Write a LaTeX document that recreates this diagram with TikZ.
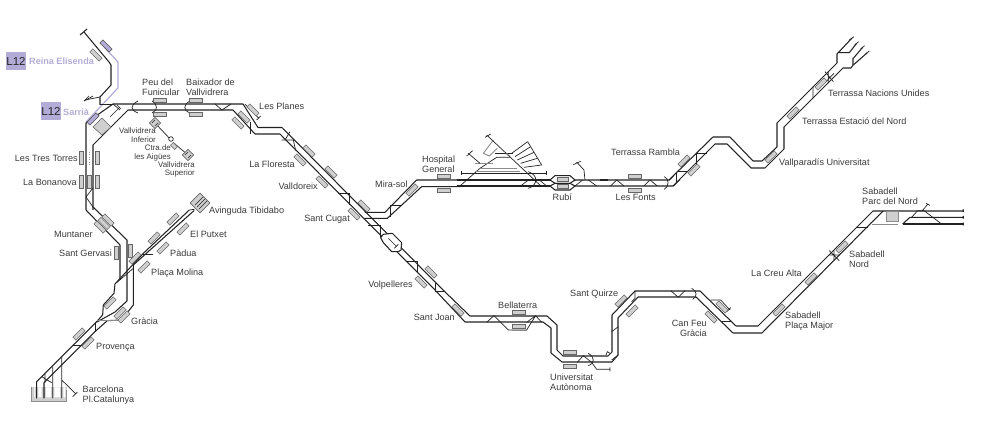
\documentclass[tikz,border=0pt]{standalone}
\usepackage{fontspec}
\setmainfont{Liberation Sans}
\definecolor{ink}{HTML}{222222}
\definecolor{txt}{HTML}{3A3A3A}
\definecolor{lil}{HTML}{B3ACD6}
\definecolor{stf}{HTML}{CFCFCF}
\definecolor{stl}{HTML}{666666}
\definecolor{grt}{HTML}{8C8C8C}
\tikzset{
 trk/.style={draw=ink,line width=1.05pt,line join=round},
 thin trk/.style={draw=ink,line width=0.7pt},
 grey trk/.style={draw=grt,line width=0.9pt},
 lil trk/.style={draw=lil,line width=1.2pt},
 sta/.style={draw=stl,fill=stf,line width=0.6pt,minimum width=13pt,minimum height=4.2pt,inner sep=0pt,outer sep=0pt},
 stap/.style={sta,fill=lil,draw=black!70},
 lab/.style={text=txt,font=\fontsize{9.1}{9.8}\selectfont,inner sep=0pt,align=left,anchor=west},
 labr/.style={text=txt,font=\fontsize{9.1}{9.8}\selectfont,inner sep=0pt,align=right,anchor=east},
 smallr/.style={text=txt,font=\fontsize{7.9}{8.7}\selectfont,inner sep=0pt,align=right,anchor=east},
 lilab/.style={text=lil,font=\fontsize{9.1}{10}\selectfont\bfseries,inner sep=0pt,anchor=west},
 l12/.style={fill=lil,text=black!85,font=\fontsize{11.5}{11.5}\selectfont,minimum width=18pt,minimum height=18pt,inner sep=0pt},
}
\newcommand{\stn}[4]{\node[sta,rotate=#3] (#4) at (#1,#2) {};}
\begin{document}
\begin{tikzpicture}[x=1pt,y=-1pt]
\useasboundingbox (0,0) rectangle (999,430);
% --- L12 branch
\draw[lil trk] (86,122) -- (118,88) -- (118,62) -- (104,47);
% --- top left terminus
\draw[trk] (84,32) -- (109,62) -- (111,65) -- (111,85) -- (100,97) -- (100,105);
\draw[trk] (80,35) -- (87,29);
\draw[thin trk] (100,97) -- (85,100) (84,101) -- (89,96);
\draw[thin trk] (93,96) -- (84,101);
\draw[thin trk] (100,104) -- (113,104);
% --- main line from Sarrià to Sabadell
\draw[trk] (86,210) -- (86,123) -- (113,104) -- (243,104) -- (258,127.5) -- (282,127.5) -- (443,290) -- (470,316) -- (547,316) -- (557,325) -- (557,350) -- (563,356) -- (608,356) -- (612,352) -- (612,315) -- (635,291) -- (700,291) -- (736,326) -- (758,326) -- (873,211) -- (963,211);
\draw[trk] (93,210) -- (93,145) -- (128,110) -- (233,110) -- (255,134) -- (280,134) -- (435,290) -- (465,322) -- (543,322) -- (551,328) -- (551,353) -- (562,362) -- (612,362) -- (618,355) -- (618,318) -- (638,297) -- (696,297) -- (733,333) -- (762,333) -- (883,211);
\draw[thin trk] (110,117) -- (120,107);
\draw[thin trk] (113,104) -- (120,110);
\draw[thin trk] (117,105) -- (121,109);
% arcs at Peu/Baixador
\draw[thin trk] (138,101) .. controls (130,105) and (130,110) .. (138,113);
\draw[thin trk] (152,101) .. controls (158,105) and (158,110) .. (152,113);
\draw[thin trk] (190,101) .. controls (183,105) and (183,110) .. (190,113);
\draw[thin trk] (215,104) -- (222,110) -- (231,104);
% diamond and grey at Sarrià
\draw[draw=stl,fill=stf,line width=.6pt] (102,118) -- (111,127) -- (102,135) -- (93,127) -- cycle;
% --- Funicular
\draw[thin trk] (155,123) -- (172,141) (175,144) -- (188,155);
\draw[thin trk,fill=white] (171,139) circle (2.3pt);
\node[sta,rotate=-45,minimum width=8pt,minimum height=8pt] (fa) at (155,123) {};
\node[sta,rotate=-45,minimum width=6pt,minimum height=4pt] (fb) at (174,146) {};
\node[sta,rotate=-45,minimum width=8pt,minimum height=8pt] (fc) at (188,155) {};
\draw[thin trk] (152,123) -- (155,120) (155,126) -- (158,123) (185,155) -- (188,152) (188,158) -- (191,155);
% crossing Bonanova
\draw[thin trk] (86,197) -- (93,188) (86,197) -- (93,207);
\draw[draw=grt,dotted,line width=.5pt] (89,152) -- (89,165);
% --- Muntaner to Gràcia to Catalunya
\draw[trk] (86,210) -- (120,245) -- (120,280);
\draw[trk] (93,207) -- (127,240) -- (127,301) -- (115,312) -- (97,322);
\begin{scope}[shift={(0,190)},x=0.3333pt,y=-0.3333pt]
\fill[stf] (93,590) rectangle (200,635);
\fill[white] (103,592) rectangle (105,622) (115,592) rectangle (125,622) (138,592) rectangle (153,622) (163,592) rectangle (180,622) (190,592) rectangle (196,622);
\draw[grey trk] (93,590) -- (93,635) -- (200,635) -- (200,600);
\draw[trk] (568,60) -- (430,190) -- (345,282) -- (342,310) -- (310,345) -- (308,375) -- (290,395) -- (125,560) -- (110,575) -- (110,625);
\draw[trk] (582,62) -- (400,225) -- (400,345) -- (365,390) -- (322,392) -- (285,425) -- (185,525) -- (132,578) -- (132,625);
\draw[thin trk] (568,60) -- (582,58) -- (582,62);
\draw[thin trk] (350,278) -- (400,235);
\draw[grey trk] (290,392) -- (365,392);
\draw[thin trk] (430,192) -- (460,192) (220,466) -- (245,466) (285,395) -- (285,425);
\draw[thin trk] (185,500) -- (185,625) (158,530) -- (158,625) (185,570) -- (228,612);
\draw[thin trk] (218,620) -- (232,606);
\draw[thin trk] (125,560) -- (155,578) (135,552) -- (135,578);
\end{scope}
% --- Les Planes side
\begin{scope}[shift={(230,90)},x=0.3333pt,y=-0.3333pt]
\draw[thin trk] (45,42) -- (87,85) (80,90) -- (92,78);
\draw[thin trk] (62,95) -- (62,132);
\draw[thin trk] (155,150) -- (190,150) -- (197,182) (165,150) -- (180,125);
\draw[thin trk] (325,310) -- (358,310) -- (358,345);
\draw[thin trk] (415,405) -- (450,405) -- (450,440);
\draw[thin trk] (530,515) -- (562,515) -- (562,550);
\draw[thin trk] (480,345) -- (515,345) (482,345) -- (482,380);
\draw[trk] (405,367) -- (465,367) -- (560,270) -- (690,270);
\draw[trk] (403,385) -- (472,385) -- (575,290) -- (690,290);
\draw[trk,fill=white] (452,443) -- (460,433) -- (487,430) -- (515,458) -- (513,480) -- (505,485) -- (485,485) -- (460,458) -- cycle;
\draw[thin trk] (475,445) -- (500,470) (493,475) -- (505,463);
\end{scope}
% --- Rubí
\begin{scope}[shift={(400,120)},x=0.3333pt,y=-0.3333pt]
\draw[trk] (170,180) -- (450,180);
\draw[trk] (170,198) -- (450,198);
\draw[thin trk] (180,198) -- (240,145) -- (290,112) -- (330,112);
\draw[thin trk] (183,160) -- (440,160) (183,154) -- (183,166) (440,154) -- (440,166);
\draw[grey trk] (225,155) -- (360,155) (240,145) -- (350,145) (225,130) -- (280,130);
\draw[thin trk] (205,100) -- (240,130) (200,108) -- (218,92);
\draw[grey trk] (250,100) -- (280,60) (250,100) -- (268,108) -- (292,85);
\draw[thin trk] (260,45) -- (425,200) (255,52) -- (272,42);
\draw[thin trk] (285,100) -- (340,100);
\draw[grey trk] (320,100) -- (330,108);
\draw[thin trk] (335,100) -- (383,65) (345,110) -- (392,80) (352,120) -- (402,97) (362,130) -- (412,115) (372,142) -- (425,135);
\draw[thin trk] (383,65) -- (425,135);
\draw[thin trk] (362,198) -- (385,180) (418,180) -- (440,198);
\draw[thin trk] (385,155) .. controls (415,165) and (415,195) .. (385,205);
\draw[trk] (450,180) -- (465,167) -- (510,167) -- (525,180) -- (510,190) -- (465,190) -- cycle;
\draw[trk] (450,198) -- (465,190) -- (510,190) -- (525,198) -- (510,210) -- (465,210) -- cycle;
\draw[trk] (525,180) -- (808,180) -- (820,168);
\draw[trk] (525,198) -- (820,198) -- (840,178);
\draw[thin trk] (525,198) -- (548,180) (565,180) -- (590,198) (555,180) -- (552,150) -- (530,126) (520,134) -- (542,124);
\draw[ink,line width=1.4pt] (600,180) -- (625,180);
\draw[thin trk] (632,198) -- (650,180) -- (672,198) (732,198) -- (750,180) -- (772,198);
\draw[thin trk] (793,170) .. controls (808,175) and (808,200) .. (793,208);
\end{scope}
% --- Terrassa
\draw[trk] (669,180) -- (713,137) -- (730,137) -- (753,161) -- (762,161) -- (777,147) -- (777,123) -- (837,63) -- (837,54) -- (852,38);
\draw[trk] (673,186) -- (715,144) -- (727,144) -- (751,168) -- (765,168) -- (784,149) -- (784,127) -- (843,68) -- (851,68) -- (853,65) -- (853,58);
\begin{scope}[shift={(660,30)},x=0.3333pt,y=-0.3333pt]
\draw[thin trk] (50,425) -- (85,425) (50,425) -- (50,460) (108,370) -- (140,370) (108,370) -- (108,405);
\draw[thin trk] (459,170) -- (459,205) (505,125) -- (505,160) (495,125) -- (520,155) (495,158) -- (522,130);
\draw[trk] (537,68) -- (568,68) -- (590,40);
\draw[trk] (580,85) -- (608,52) (580,105) -- (622,68);
\draw[thin trk] (568,30) -- (582,20) (584,45) -- (596,35) (602,57) -- (614,47) (616,73) -- (628,63);
\end{scope}
% --- Volpelleres to UAB detail
\begin{scope}[shift={(370,270)},x=0.3333pt,y=-0.3333pt]
\draw[thin trk] (195,35) -- (195,65) -- (225,65);
\draw[thin trk] (350,157) -- (372,137) -- (392,157) -- (415,180) -- (470,180) -- (497,137) (470,157) -- (497,137) -- (515,157);
\draw[grey trk] (425,180) -- (470,180);
\draw[thin trk] (622,277) -- (640,257) -- (665,277) -- (680,298) -- (720,298) (720,292) -- (720,304);
\draw[thin trk] (655,250) .. controls (675,262) and (675,280) .. (655,287);
\draw[thin trk] (708,255) -- (712,245) -- (720,250);
\draw[thin trk] (725,185) -- (745,170);
\draw[thin trk] (725,270) -- (745,255);
\draw[thin trk] (785,95) -- (795,85) -- (795,62);
\end{scope}
% --- Can Feu to Sabadell detail
\begin{scope}[shift={(650,180)},x=0.3333pt,y=-0.3333pt]
\draw[thin trk] (62,332) -- (85,352) -- (105,332);
\draw[thin trk] (125,325) .. controls (142,332) and (142,352) .. (128,358);
\draw[thin trk] (182,360) -- (212,360) -- (240,390) (230,395) -- (242,383);
\draw[thin trk] (215,425) -- (245,425);
\draw[thin trk] (538,212) -- (568,242) (552,212) -- (552,242) (568,225) -- (538,225);
\draw[thin trk] (620,142) -- (655,142);
\draw[grey trk] (665,132) -- (745,132);
\draw[trk] (758,132) -- (780,112) -- (940,112);
\draw[trk] (758,132) -- (940,132);
\draw[thin trk] (785,112) -- (803,92) -- (822,92) -- (875,132) (817,92) -- (834,72) (828,70) -- (840,76);
\fill[ink] (938,88) rectangle (942,96) (938,108) rectangle (942,116) (938,128) rectangle (942,136);
\end{scope}
\node[draw=grt,fill=stf,line width=1pt,minimum width=12pt,minimum height=10pt,inner sep=0pt] (pn) at (892,217) {};
% --- stations
\node[stap,rotate=-45] (reinaA) at (106,46) {};
\stn{96}{55}{-45}{reinaB}
\node[stap,rotate=45] (sarria) at (93,119) {};
\stn{159.5}{100}{0}{peuA}\stn{159.5}{114}{0}{peuB}
\stn{195.5}{100}{0}{baiA}\stn{195.5}{114}{0}{baiB}
\stn{253}{110}{-45}{plA}\stn{244}{117}{-45}{plB}\stn{238}{123}{-45}{plC}
\stn{81}{158}{90}{ttA}\stn{97}{158}{90}{ttB}
\stn{81}{182}{90}{bnA}\stn{89}{182}{90}{bnB}\stn{97}{182}{90}{bnC}
\stn{100}{227}{-45}{muA}\stn{108}{220}{-45}{muB}\stn{104}{223.5}{-45}{muC}
\stn{116}{253}{90}{sgA}\stn{130}{251}{90}{sgB}
\stn{144}{267}{45}{pmA}\stn{135}{258}{45}{pmB}
\stn{163}{248}{45}{paA}\stn{154}{238}{45}{paB}
\stn{183}{229}{45}{puA}\stn{173}{219}{45}{puB}
\node[sta,rotate=45,minimum width=14pt,minimum height=14pt] (tib) at (200,203) {};
\draw[thin trk] (195,205) -- (203,197) (197,207) -- (205,199) (199,209) -- (207,201);
\stn{110}{303}{45}{grA}\stn{120}{313}{45}{grB}\stn{124}{317}{45}{grC}
\stn{88}{343}{45}{prA}\stn{79}{334}{45}{prB}
\stn{309}{151}{-45}{flA}\stn{300}{160}{-45}{flB}
\stn{331}{172}{-45}{vaA}\stn{322}{182}{-45}{vaB}
\stn{364}{206}{-45}{cuA}\stn{354}{214}{-45}{cuB}
\stn{431}{272}{-45}{voA}\stn{421}{282}{-45}{voB}
\stn{412}{190}{45}{mis}
\stn{444}{176}{0}{hoA}\stn{444}{190}{0}{hoB}
\node[sta,minimum width=11pt,minimum height=3.5pt] (ruA) at (562.5,179.5) {};
\node[sta,minimum width=11pt,minimum height=3.5pt] (ruB) at (562.5,186.5) {};
\stn{635}{176}{0}{foA}\stn{635}{190}{0}{foB}
\stn{684}{161}{45}{raA}\stn{694}{170}{45}{raB}
\stn{771}{157}{45}{vlp}
\stn{793}{113}{45}{est}
\stn{821}{84}{45}{nac}
\stn{458}{310}{-45}{joa}
\stn{519}{312}{0}{beA}\stn{519}{326}{0}{beB}
\stn{570}{352}{0}{uaA}\stn{570}{366}{0}{uaB}
\stn{621}{301}{45}{quA}\stn{632}{311}{45}{quB}
\stn{722}{307}{-45}{fcA}\stn{711}{317}{-45}{fcB}
\stn{779}{310}{45}{pma}
\stn{811}{279}{45}{cre}
\stn{842}{247}{45}{sno}
% --- L12 labels
\node[l12] (lA) at (16,61) {L12};
\node[lilab] (lAt) at (29,61.5) {Reina Elisenda};
\node[l12] (lB) at (51,111) {L12};
\node[lilab] (lBt) at (63,112) {Sarrià};
% --- labels
\node[lab] (tPeu) at (142,87.5) {Peu del\\Funicular};
\node[lab] (tBai) at (186,87.5) {Baixador de\\Vallvidrera};
\node[lab] (tPla) at (259,106.5) {Les Planes};
\node[labr] (tTT) at (78,158) {Les Tres Torres};
\node[labr] (tBo) at (77,182) {La Bonanova};
\node[smallr] (tVI) at (156,135.5) {Vallvidrera\\Inferior};
\node[smallr] (tCt) at (171,153) {Ctra.de\\les Aigües};
\node[smallr] (tVS) at (195,169.5) {Vallvidrera\\Superior};
\node[labr] (tFl) at (295,164.5) {La Floresta};
\node[labr] (tVa) at (318,186.5) {Valldoreix};
\node[labr] (tCu) at (350,219.5) {Sant Cugat};
\node[lab] (tMi) at (375,184.5) {Mira-sol};
\node[lab] (tHo) at (422,164) {Hospital\\General};
\node[labr] (tVo) at (413,285.5) {Volpelleres};
\node[labr] (tJo) at (455,317) {Sant Joan};
\node[lab] (tBe) at (498,305) {Bellaterra};
\node[lab] (tUa) at (550,382.5) {Universitat\\Autònoma};
\node[lab] (tQu) at (570,294) {Sant Quirze};
\node[labr] (tFe) at (707,328) {Can Feu\\Gràcia};
\node[lab] (tMa) at (785,321.5) {Sabadell\\Plaça Major};
\node[lab] (tCr) at (751,273.5) {La Creu Alta};
\node[lab] (tNo) at (849,259.5) {Sabadell\\Nord};
\node[lab] (tPa) at (862,196) {Sabadell\\Parc del Nord};
\node[lab] (tVl) at (779,163.5) {Vallparadís Universitat};
\node[lab] (tEs) at (802,121) {Terrassa Estació del Nord};
\node[lab] (tNa) at (828,93) {Terrassa Nacions Unides};
\node[lab] (tRa) at (611,152.5) {Terrassa Rambla};
\node[lab] (tFo) at (615.5,197.5) {Les Fonts};
\node[lab] (tRu) at (552.5,197.5) {Rubí};
\node[lab] (tMu) at (54,234) {Muntaner};
\node[lab] (tSG) at (59,253) {Sant Gervasi};
\node[lab] (tPd) at (170,253.5) {Pàdua};
\node[lab] (tPM) at (151,273.5) {Plaça Molina};
\node[lab] (tPu) at (190,234) {El Putxet};
\node[lab] (tTi) at (209,211) {Avinguda Tibidabo};
\node[lab] (tGr) at (131,321.5) {Gràcia};
\node[lab] (tPr) at (96,347) {Provença};
\node[lab] (tCa) at (82.5,395) {Barcelona\\Pl.Catalunya};
\end{tikzpicture}
\end{document}
